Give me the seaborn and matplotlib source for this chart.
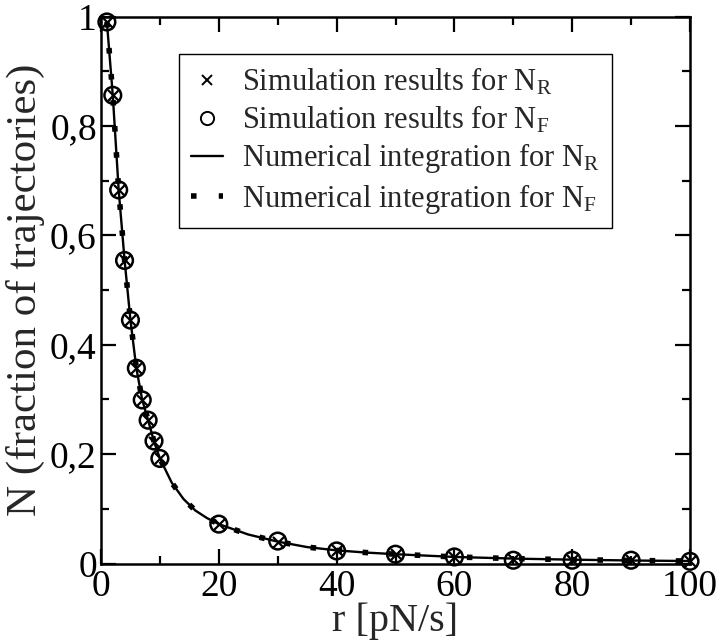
import numpy as np
import pandas as pd
import matplotlib
matplotlib.use('Agg')
import matplotlib.pyplot as plt
import seaborn as sns
from matplotlib.lines import Line2D
from matplotlib.ticker import MultipleLocator, FixedLocator, FixedFormatter

# ---- data ----
r_sim = [1, 2, 3, 4, 5, 6, 7, 8, 9, 10, 20, 30, 40, 50, 60, 70, 80, 90, 100]
n_r_sim = [0.990, 0.856, 0.683, 0.555, 0.445, 0.357, 0.299, 0.262, 0.223, 0.192,
           0.072, 0.040, 0.024, 0.018, 0.012, 0.008, 0.007, 0.006, 0.004]
n_f_sim = [0.990, 0.856, 0.683, 0.554, 0.445, 0.357, 0.299, 0.262, 0.224, 0.192,
           0.072, 0.041, 0.023, 0.017, 0.012, 0.006, 0.006, 0.006, 0.004]

r_line = [1, 2, 3, 4, 5, 6, 7, 8, 9, 10, 12, 14, 16, 18, 20, 25, 30, 35, 40,
          45, 50, 60, 70, 80, 90, 100]
n_r_line = [0.990, 0.856, 0.683, 0.555, 0.445, 0.357, 0.299, 0.262, 0.223, 0.192,
            0.148, 0.118, 0.097, 0.083, 0.072, 0.053, 0.040, 0.030, 0.024,
            0.020, 0.017, 0.012, 0.009, 0.007, 0.0055, 0.0045]
n_f_line = [0.990, 0.856, 0.683, 0.555, 0.445, 0.357, 0.299, 0.262, 0.223, 0.192,
            0.148, 0.118, 0.097, 0.083, 0.072, 0.053, 0.040, 0.030, 0.024,
            0.020, 0.017, 0.012, 0.009, 0.007, 0.0055, 0.0045]

x_ticks = [0, 20, 40, 60, 80, 100]
y_ticks = [0, 0.2, 0.4, 0.6, 0.8, 1.0]
y_tick_labels = ['0', '0,2', '0,4', '0,6', '0,8', '1']

labels = [r'Simulation results for N$_\mathrm{R}$',
          r'Simulation results for N$_\mathrm{F}$',
          r'Numerical integration for N$_\mathrm{R}$',
          r'Numerical integration for N$_\mathrm{F}$']

# ---- style ----
sns.set_style('ticks')
plt.rcParams['font.family'] = ['Liberation Serif', 'DejaVu Serif']
plt.rcParams['mathtext.fontset'] = 'custom'
plt.rcParams['mathtext.rm'] = 'Liberation Serif'
plt.rcParams['mathtext.it'] = 'Liberation Serif:italic'

fig = plt.figure(figsize=(7.2, 6.44), dpi=100)
ax = fig.add_axes([101/720, (644-563.5)/644, (690-101)/720, (563.5-16.5)/644])

dotted = (0, (1, 3.7))

sns.lineplot(x=r_line, y=n_r_line, ax=ax, color='black', linewidth=1.7,
             estimator=None, sort=False, zorder=2)
sns.lineplot(x=r_line, y=n_f_line, ax=ax, color='black', linewidth=4.0,
             linestyle=dotted, dash_capstyle='butt', estimator=None, sort=False, zorder=3)
sns.scatterplot(x=r_sim, y=n_f_sim, ax=ax, marker='o', s=12**2,
                facecolors='none', edgecolor='black', linewidth=1.8,
                clip_on=False, zorder=4)
sns.scatterplot(x=r_sim, y=n_r_sim, ax=ax, marker='x', s=8**2,
                color='black', linewidth=1.6, clip_on=False, zorder=5)

ax.set_xlim(0, 100)
ax.set_ylim(0, 1)
ax.xaxis.set_major_locator(FixedLocator(x_ticks))
ax.xaxis.set_minor_locator(MultipleLocator(10))
ax.yaxis.set_major_locator(FixedLocator(y_ticks))
ax.yaxis.set_major_formatter(FixedFormatter(y_tick_labels))
ax.yaxis.set_minor_locator(MultipleLocator(0.1))

for s in ax.spines.values():
    s.set_visible(True)
    s.set_linewidth(1.8)
    s.set_color('black')

ax.tick_params(which='both', direction='in', top=True, right=True,
               width=1.6, color='black', labelsize=27, labelcolor='black')
ax.tick_params(which='major', length=11)
ax.tick_params(axis='x', which='major', pad=4.5)
ax.tick_params(axis='y', which='major', pad=3)
ax.tick_params(which='minor', length=5.5)

ax.set_xlabel('r [pN/s]', fontsize=29, labelpad=-1)
ax.set_ylabel('N (fraction of trajectories)', fontsize=31, labelpad=4)

handles = [
    Line2D([], [], linestyle='none', marker='x', color='black', markersize=7, markeredgewidth=1.4),
    Line2D([], [], linestyle='none', marker='o', markerfacecolor='none',
           markeredgecolor='black', markersize=9.5, markeredgewidth=1.4),
    Line2D([], [], color='black', linewidth=1.7),
    Line2D([], [], color='black', linewidth=4.0, linestyle=(0, (1, 4.0)), dash_capstyle='butt'),
]
leg = ax.legend(handles, labels, loc='upper left',
                bbox_to_anchor=((179-101)/589, (563.5-54)/547),
                borderaxespad=0, fontsize=22, frameon=True, fancybox=False,
                edgecolor='black', framealpha=1, handlelength=1.05,
                handletextpad=0.6, labelspacing=0.2, borderpad=0.4)
leg.get_frame().set_linewidth(1.0)

fig.savefig('out.png', dpi=100)
